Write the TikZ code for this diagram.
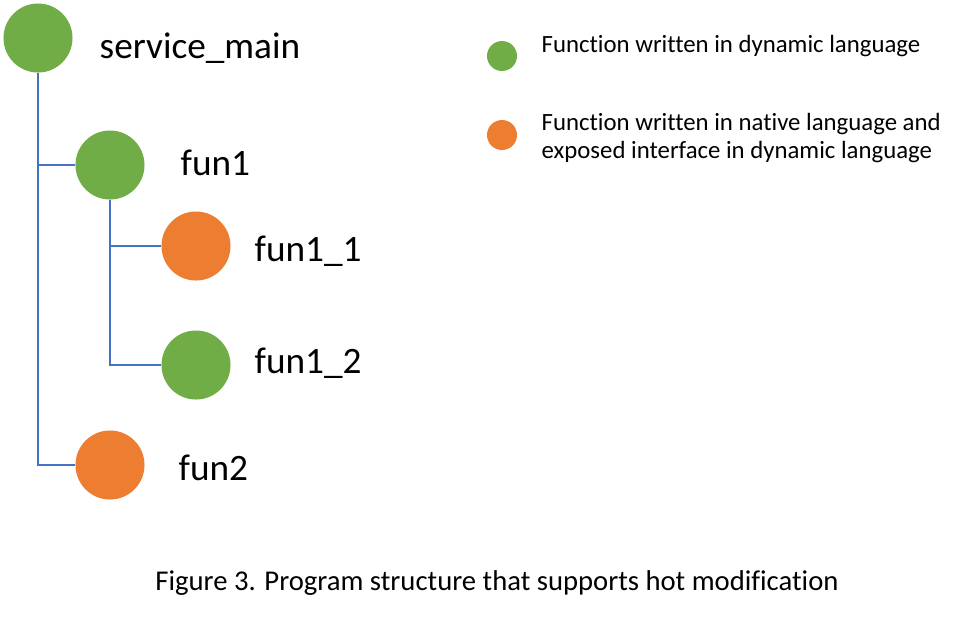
\documentclass[tikz,border=0pt]{standalone}
\usepackage{fontspec}
\setmainfont{Carlito}[Ligatures=NoCommon]
\usepackage{tikz}
\usetikzlibrary{positioning,calc}

\definecolor{dyngreen}{HTML}{70AD47}
\definecolor{natorange}{HTML}{ED7D31}
\definecolor{treeblue}{HTML}{4472C4}

\begin{document}
\begin{tikzpicture}[x=0.01cm, y=-0.01cm]
    \tikzset{
        fn/.style={circle, draw=none, inner sep=0pt, minimum size=0.69cm},
        dyn/.style={fn, fill=dyngreen},
        nat/.style={fn, fill=natorange},
        legdot/.style={circle, draw=none, inner sep=0pt, minimum size=0.30cm},
        fnlabel/.style={anchor=base west, inner sep=0pt, font=\fontsize{10.6}{12.5}\selectfont},
        legtext/.style={anchor=base west, inner sep=0pt, align=left, font=\fontsize{7.05}{7.94}\selectfont},
        tree/.style={draw=treeblue, line width=0.4pt}
    }
    \useasboundingbox (0,0) rectangle (963,617);

    % Functions
    \node[dyn] (sm) at (38, 38) {};
    \node[dyn] (f1) at (110, 165) {};
    \node[nat] (f11) at (196, 246) {};
    \node[dyn] (f12) at (196, 365) {};
    \node[nat] (f2) at (110, 465) {};

    % Labels
    \node[fnlabel] (tsm) at (99, 58) {service\_main};
    \node[fnlabel] (tf1) at (180, 175) {fun1};
    \node[fnlabel] (tf11) at (254, 261) {fun1\_1};
    \node[fnlabel] (tf12) at (254, 373) {fun1\_2};
    \node[fnlabel] (tf2) at (178, 480) {fun2};

    % Tree lines
    \draw[tree] (sm) |- (f1);
    \draw[tree] (sm) |- (f2);
    \draw[tree] (f1) |- (f11);
    \draw[tree] (f1) |- (f12);

    % Legend
    \node[legdot, fill=dyngreen] (ldyn) at (502, 56) {};
    \node[legdot, fill=natorange] (lnat) at (502, 135) {};
    \node[legtext] (tdyn) at (541, 52) {Function written in dynamic language};
    \node[legtext] (tnat) at (541, 158) {Function written in native language and\\exposed interface in dynamic language};

    % Caption
    \node[anchor=base, inner sep=0pt, font=\fontsize{8.15}{10}\selectfont] (cap) at (497, 590) {Figure 3. Program structure that supports hot modification};
\end{tikzpicture}
\end{document}
